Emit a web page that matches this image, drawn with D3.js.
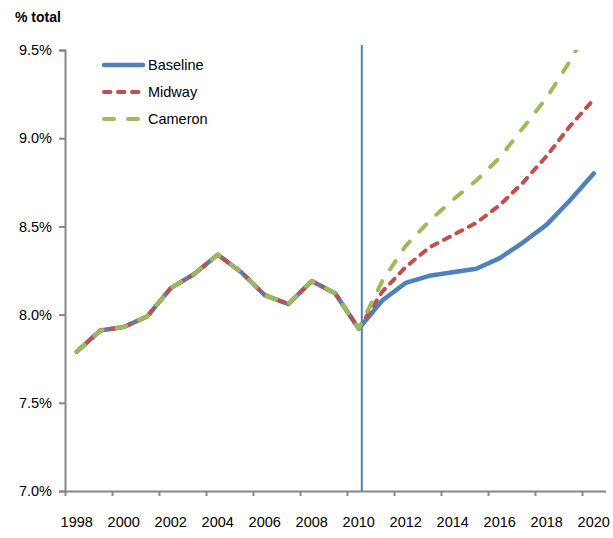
<!DOCTYPE html>
<html>
<head>
	<meta charset="utf-8">
	<title>% total - Baseline, Midway, Cameron</title>
	<style>
		html, body { margin:0; padding:0; background:#fff; }
		body { font-family: "Liberation Sans", Arial, Helvetica, sans-serif; }
		.axis path, .axis line { stroke:#868686; stroke-width:2px; fill:none; }
		.axis text { font-size:14.5px; fill:#000; font-family: "Liberation Sans", Arial, sans-serif; }
		.ln { fill:none; stroke-linejoin:round; stroke-linecap:round; }
		.ln_b { stroke:#4f81bd; stroke-width:4.5px; }
		.ln_m { stroke:#c0504d; stroke-width:4px; stroke-dasharray:6.5,7.5; }
		.ln_c { stroke:#9bbb59; stroke-width:4px; stroke-dasharray:10,14; }
		#title { font-size:14px; font-weight:bold; }
		.leg { font-size:14.5px; }
	</style>
	<script src="https://d3js.org/d3.v7.min.js"></script>
</head>
<body>
<svg id="chart"></svg>
<script>

	//data
	var years = d3.range(1998, 2021);
	var observed = [7.79, 7.91, 7.93, 7.99, 8.15, 8.23, 8.34, 8.24, 8.11, 8.06, 8.19, 8.12, 7.92]; //1998-2010
	var baseline = [8.08, 8.18, 8.22, 8.24, 8.26, 8.32, 8.41, 8.51, 8.65, 8.80]; //2011-2020
	var midway = [8.13, 8.27, 8.38, 8.45, 8.52, 8.62, 8.75, 8.90, 9.07, 9.22];
	var cameron = [8.19, 8.39, 8.53, 8.65, 8.76, 8.89, 9.06, 9.23, 9.44, 9.68];
	var yTicks = [7.0, 7.5, 8.0, 8.5, 9.0, 9.5];
	var xLabels = d3.range(1998, 2021, 2);
	var splitYear = 2010.13; //start of projections
	var seriesNames = ["Baseline", "Midway", "Cameron"];
	var seriesKeys = ["b", "m", "c"];

	var width = 613, height = 538;
	var svg = d3.select("#chart").attr("width", width).attr("height", height);

	//scales
	var x = d3.scaleLinear().domain([1997.5, 2020.5]).range([65, 605.5]);
	var y = d3.scaleLinear().domain([7.0, 9.5]).range([491, 50]);

	//clip
	svg.append("clipPath").attr("id", "plot")
		.append("rect").attr("x", 60).attr("y", y(9.5)).attr("width", 560).attr("height", y(7.0) - y(9.5));

	//title
	svg.append("text").attr("id", "title").attr("x", 15).attr("y", 22).text("% total");

	//y axis
	svg.append("g").attr("class", "axis")
		.attr("transform", "translate(" + x(1997.5) + ",0)")
		.call(d3.axisLeft(y).tickValues(yTicks).tickSize(6).tickSizeOuter(6).tickPadding(7)
			.tickFormat(function(d){ return d3.format(".1f")(d) + "%"; }));

	//x axis (ticks between every two categories)
	var gx = svg.append("g").attr("class", "axis")
		.attr("transform", "translate(0," + y(7.0) + ")")
		.call(d3.axisBottom(x).tickValues(d3.range(1997.5, 2020, 2)).tickSize(5).tickSizeOuter(0).tickFormat(""));
	gx.selectAll(".xl").data(xLabels).enter().append("text").attr("class", "xl")
		.attr("x", function(d){ return x(d); }).attr("y", 36)
		.style("text-anchor", "middle").text(function(d){ return d; });

	//vertical line
	svg.append("line")
		.attr("x1", x(splitYear)).attr("x2", x(splitYear))
		.attr("y1", y(9.5) - 5).attr("y2", y(7.0))
		.style("stroke", "#4f81bd").style("stroke-width", "2px");

	//lines
	var line = d3.line().x(function(d, i){ return x(years[i]); }).y(function(d){ return y(d); });
	var series = [observed.concat(baseline), observed.concat(midway), observed.concat(cameron)];
	var gl = svg.append("g").attr("clip-path", "url(#plot)");
	series.forEach(function(s, i){
		gl.append("path").attr("d", line(s)).attr("class", "ln ln_" + seriesKeys[i]);
	});

	//legend
	var lg = svg.append("g");
	seriesNames.forEach(function(n, i){
		var ly = 65 + i * 27;
		lg.append("path").attr("d", "M104," + ly + "H143").attr("class", "ln ln_" + seriesKeys[i]);
		lg.append("text").attr("class", "leg").attr("x", 148).attr("y", ly).attr("dy", "0.35em").text(n);
	});

</script>
</body>
</html>
